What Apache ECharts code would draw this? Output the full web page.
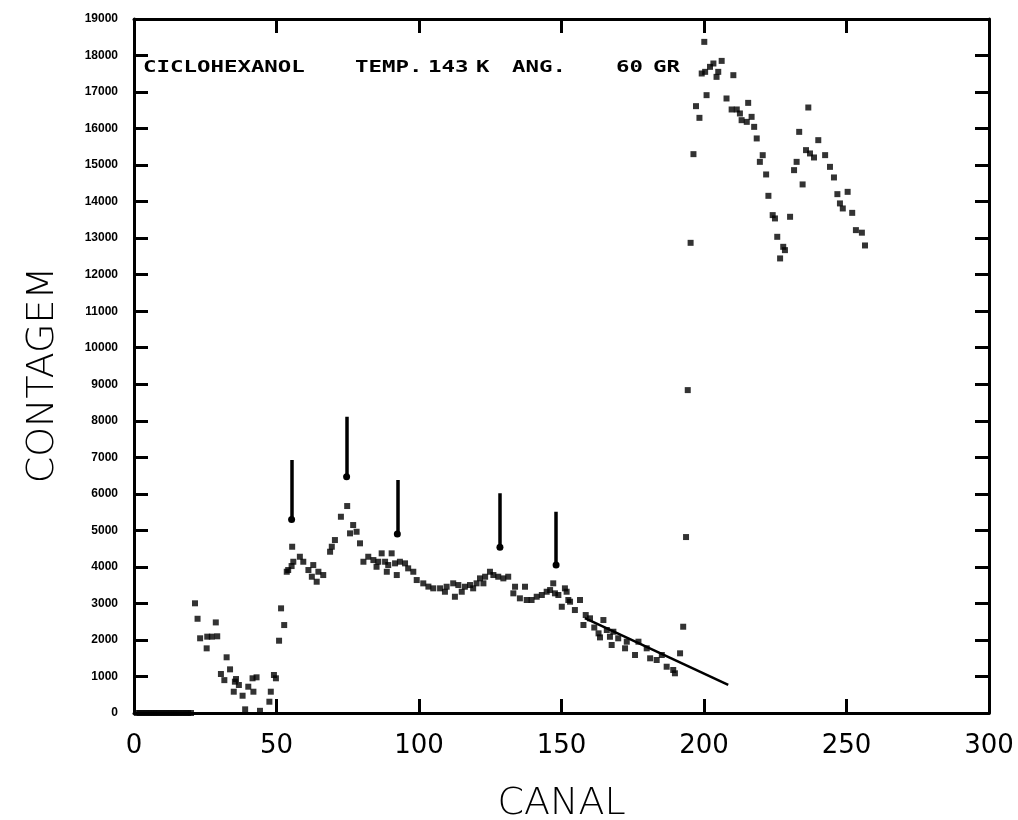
<!DOCTYPE html>
<html>
<head>
<meta charset="utf-8">
<title>Ciclohexanol – contagem por canal</title>
<script src="https://cdn.jsdelivr.net/npm/echarts/dist/echarts.min.js"></script>
<style>
  html, body { margin: 0; padding: 0; background: #ffffff; }
  #chart { width: 1018px; height: 820px; }
</style>
</head>
<body>
<div id="chart"></div>
<script>
// Spectrum: counts per analyser channel
const canal = [
  1, 2, 3, 4, 5, 6, 7, 8, 9, 10, 11, 12, 13, 14, 15, 16, 17, 18, 19, 20,
  21.4, 22.3, 23.2, 25.5, 25.7, 27.3, 28.7, 29.2, 30.5, 31.7, 32.5, 33.7,
  35.0, 35.4, 35.8, 36.8, 38.1, 39.0, 40.1, 41.6, 41.9, 43.0, 44.2, 47.5,
  48.0, 49.1, 49.8, 50.9, 51.6, 52.7, 53.6, 54.1, 55.3, 55.5, 55.9, 58.2,
  59.4, 61.2, 62.4, 62.9, 64.1, 64.7, 66.4, 68.8, 69.4, 70.5, 72.6, 74.8,
  75.8, 76.9, 78.1, 79.3, 80.5, 82.2, 84.0, 85.1, 85.7, 86.9, 88.1, 88.7,
  89.2, 90.4, 91.6, 92.2, 93.3, 95.1, 96.2, 98.0, 99.2, 101.5, 103.3, 105.0,
  107.4, 109.1, 109.7, 112.0, 112.6, 113.8, 115.0, 116.1, 117.9, 119.0, 120.2, 121.4,
  122.6, 123.2, 124.9, 126.1, 127.8, 129.6, 131.3, 133.1, 133.7, 135.4, 137.2, 137.8,
  139.5, 141.3, 143.1, 144.8, 146.0, 147.1, 147.7, 148.9, 150.1, 151.2, 151.8, 152.4,
  153.0, 154.7, 156.5, 157.7, 158.5, 160.0, 161.5, 163.0, 163.5, 164.7, 165.9, 167.0,
  167.6, 168.2, 169.9, 172.3, 172.9, 175.8, 177.0, 179.9, 181.1, 183.4, 185.2, 186.9,
  189.2, 189.8, 191.6, 192.7, 193.7, 194.3, 195.3, 196.3, 197.2, 198.4, 199.2, 200.1,
  200.4, 200.9, 202.1, 203.3, 204.4, 205.0, 206.2, 207.9, 209.7, 210.3, 211.5, 212.6,
  213.2, 215.0, 215.5, 216.7, 217.6, 218.5, 219.6, 220.6, 221.8, 222.6, 224.1, 224.9,
  225.7, 226.7, 227.8, 228.4, 230.2, 231.6, 232.5, 233.4, 234.6, 235.8, 236.6, 237.2,
  238.6, 240.1, 242.5, 244.2, 245.6, 246.8, 247.7, 248.7, 250.4, 252.0, 253.3, 255.4,
  256.5
];
const contagem = [
  0, 0, 0, 0, 0, 0, 0, 0, 0, 0, 0, 0, 0, 0, 0, 0, 0, 0, 0, 0,
  3003, 2580, 2045, 1770, 2090, 2090, 2480, 2100, 1067, 900, 1525, 1195,
  583, 857, 930, 766, 473, 100, 720, 950, 583, 977, 60, 309,
  583, 1040, 950, 1979, 2865, 2408, 3867, 3914, 4023, 4552, 4141, 4278,
  4141, 3914, 3731, 4050, 3594, 3867, 3777, 4415, 4552, 4735, 5373, 5666,
  4918, 5146, 4962, 4645, 4141, 4278, 4187, 4004, 4141, 4371, 4141, 3867,
  4051, 4371, 4097, 3777, 4141, 4097, 3960, 3867, 3640, 3549, 3460, 3413,
  3413, 3320, 3457, 3550, 3183, 3503, 3320, 3457, 3503, 3413, 3550, 3686,
  3550, 3731, 3867, 3777, 3731, 3686, 3731, 3276, 3457, 3139, 3457, 3093,
  3093, 3183, 3230, 3320, 3366, 3550, 3276, 3230, 2909, 3413, 3320, 3093,
  3047, 2819, 3093, 2409, 2682, 2592, 2340, 2181, 2070, 2545, 2272, 2088,
  1861, 2225, 2045, 1771, 1952, 1588, 1952, 1771, 1497, 1451, 1588, 1267,
  1177, 1087, 1634, 2362, 4817, 8840, 12872, 15300, 16614, 16294, 17508, 18374,
  17553, 16915, 17690, 17782, 17416, 17553, 17853, 16824, 16523, 17462, 16523, 16414,
  16230, 16184, 16704, 16321, 16047, 15730, 15089, 15272, 14744, 14159, 13631, 13540,
  13037, 12445, 12763, 12672, 13585, 14862, 15089, 15910, 14471, 15410, 16577, 15319,
  15209, 15683, 15273, 14952, 14662, 14205, 13951, 13813, 14268, 13693, 13220, 13150,
  12800
];

// Straight background line under the tail of the spectrum
const fundoCanal = [158.2, 208.5];
const fundoContagem = [2600, 770];

// Peak markers: channel, top of arrow, arrow tip
const setaCanal = [55.3, 74.6, 92.4, 128.4, 148.1];
const setaTopo = [6925, 8110, 6377, 6013, 5510];
const setaPonta = [5300, 6468, 4900, 4535, 4051];

// Axis ranges
const xMin = 0, xMax = 300, xStep = 50;
const yMin = 0, yMax = 19000, yStep = 1000;

// Caption words written inside the frame
const legendaPalavras = ['CICLOHEXANOL', 'TEMP.', '143', 'K', 'ANG.', '60', 'GR'];
const legendaX = [143, 355, 428, 476, 512, 616, 653];

const pontos = canal.map((c, i) => [c, contagem[i]]);
const fundo = fundoCanal.map((c, i) => [c, fundoContagem[i]]);
const setas = setaCanal.map((c, i) => ({ coords: [[c, setaTopo[i]], [c, setaPonta[i]]] }));

const ink = '#000000';
function frameLine() {
  return { show: true, onZero: false, lineStyle: { color: ink, width: 3 } };
}
function insideTick() {
  return { show: true, inside: true, length: 14, lineStyle: { color: ink, width: 3 } };
}

const chart = echarts.init(document.getElementById('chart'), null, { renderer: 'canvas' });

chart.setOption({
  animation: false,
  backgroundColor: '#ffffff',
  grid: {
    left: 134, right: 29, top: 19, bottom: 107,
    containLabel: false, outerBoundsMode: 'none'
  },
  xAxis: [
    {
      type: 'value', position: 'bottom', min: xMin, max: xMax, interval: xStep,
      axisLine: frameLine(),
      axisTick: insideTick(),
      splitLine: { show: false },
      axisLabel: {
        color: ink, fontFamily: "'DejaVu Sans', sans-serif", fontSize: 26, margin: 20
      },
      name: 'CANAL', nameLocation: 'middle', nameGap: 72,
      nameTextStyle: {
        color: ink, fontFamily: "'DejaVu Sans', sans-serif", fontWeight: 200, fontSize: 38
      }
    },
    {
      type: 'value', position: 'top', min: xMin, max: xMax, interval: xStep,
      axisLine: frameLine(),
      axisTick: insideTick(),
      axisLabel: { show: false },
      splitLine: { show: false }
    }
  ],
  yAxis: [
    {
      type: 'value', position: 'left', min: yMin, max: yMax, interval: yStep,
      axisLine: frameLine(),
      axisTick: insideTick(),
      splitLine: { show: false },
      axisLabel: {
        color: ink, fontFamily: "'Liberation Sans Narrow', 'Liberation Sans', sans-serif",
        fontWeight: 'bold', fontSize: 12, margin: 16,
        formatter: v => String(v)
      },
      name: 'CONTAGEM', nameLocation: 'middle', nameGap: 72, nameRotate: 90,
      nameTextStyle: {
        color: ink, fontFamily: "'DejaVu Sans', sans-serif", fontWeight: 200, fontSize: 38,
        padding: [0, 18, 0, 0]
      }
    },
    {
      type: 'value', position: 'right', min: yMin, max: yMax, interval: yStep,
      axisLine: frameLine(),
      axisTick: insideTick(),
      axisLabel: { show: false },
      splitLine: { show: false }
    }
  ],
  series: [
    {
      name: 'contagem',
      type: 'scatter',
      xAxisIndex: 0, yAxisIndex: 0,
      symbol: 'rect', symbolSize: 6,
      itemStyle: { color: ink },
      data: pontos,
      z: 3
    },
    {
      name: 'fundo',
      type: 'line',
      xAxisIndex: 0, yAxisIndex: 0,
      showSymbol: false,
      lineStyle: { color: ink, width: 2.5 },
      data: fundo,
      z: 2
    },
    {
      name: 'picos',
      type: 'lines',
      coordinateSystem: 'cartesian2d',
      xAxisIndex: 0, yAxisIndex: 0,
      symbol: ['none', 'circle'], symbolSize: 7,
      lineStyle: { color: ink, width: 3.5, opacity: 1 },
      data: setas,
      z: 4
    }
  ],
  graphic: legendaPalavras.map((w, i) => ({
    type: 'text',
    x: legendaX[i], y: 68,
    scaleX: 1.4,
    style: {
      text: w,
      fill: ink,
      font: "bold 16px 'DejaVu Sans Mono', monospace",
      textAlign: 'left', textVerticalAlign: 'middle',
      align: 'left', verticalAlign: 'middle'
    }
  }))
});
</script>
</body>
</html>
